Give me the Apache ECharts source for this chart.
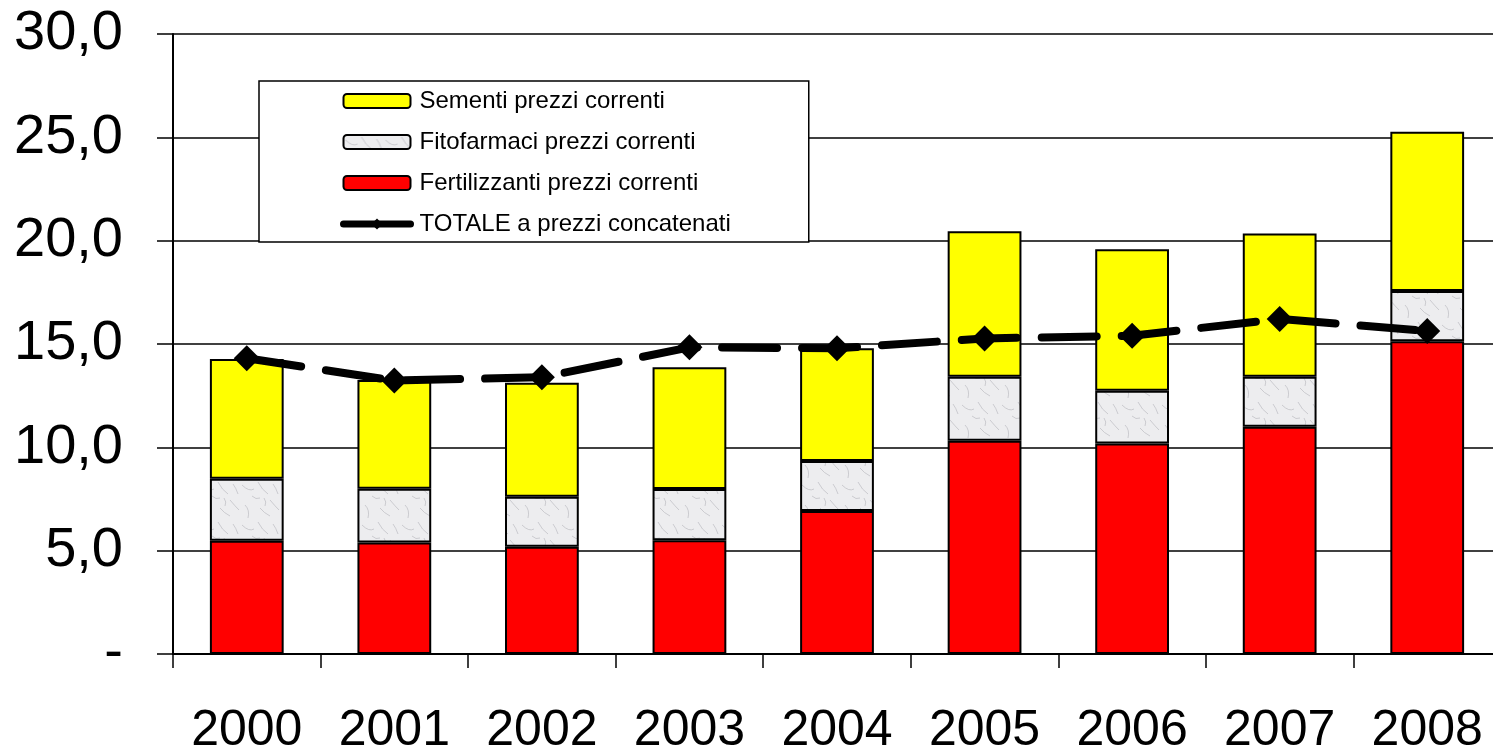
<!DOCTYPE html>
<html>
<head>
<meta charset="utf-8">
<script src="https://cdn.jsdelivr.net/npm/echarts@6/dist/echarts.min.js"></script>
<style>
  html, body { margin: 0; padding: 0; background: #fff; }
  #chart { width: 1493px; height: 749px; }
</style>
</head>
<body>
<div id="chart"></div>
<script>
// anni
var years = ['2000', '2001', '2002', '2003', '2004', '2005', '2006', '2007', '2008'];
// valori delle tre componenti (impilate)
var fertilizzanti = [5.48, 5.39, 5.19, 5.50, 6.92, 10.32, 10.19, 11.00, 15.13];
var fitofarmaci   = [3.00, 2.61, 2.42, 2.48, 2.42, 3.10, 2.55, 2.42, 2.43];
var sementi       = [5.79, 5.26, 5.52, 5.89, 5.45, 7.03, 6.84, 6.93, 7.71];
// totale a prezzi concatenati
var totale        = [14.31, 13.23, 13.39, 14.84, 14.79, 15.27, 15.40, 16.21, 15.63];

var font = 'Liberation Sans, Arial, sans-serif';

// texture "marmo" per i fitofarmaci
function marble() {
  var c = document.createElement('canvas');
  c.width = 40; c.height = 40;
  var g = c.getContext('2d');
  g.fillStyle = '#ededef';
  g.fillRect(0, 0, 40, 40);
  g.strokeStyle = '#bcbcc2';
  g.lineWidth = 0.7;
  var strokes = [[2,5,9,12,14,9],[18,2,22,10,28,14],[30,20,35,26,39,30],[5,25,10,30,8,38],
                 [20,28,24,33,30,36],[12,16,16,20,20,18],[33,4,36,8,38,14],[24,18,27,22,25,26]];
  strokes.forEach(function (s) {
    g.beginPath();
    g.moveTo(s[0], s[1]);
    g.quadraticCurveTo(s[2], s[3], s[4], s[5]);
    g.stroke();
  });
  return c;
}

var chart = echarts.init(document.getElementById('chart'));

var barStyle = function (color) {
  return { color: color, borderColor: '#000', borderWidth: 2 };
};

chart.setOption({
  animation: false,
  textStyle: { fontFamily: font, color: '#000' },
  grid: { left: 173, top: 34, width: 1328, height: 620, containLabel: false, outerBoundsMode: 'none' },
  legend: {
    left: 259,
    top: 81,
    orient: 'vertical',
    backgroundColor: '#fff',
    borderColor: '#000',
    borderWidth: 1.5,
    padding: [7, 78, 5, 81],
    itemWidth: 67,
    itemHeight: 14,
    itemGap: 15,
    textStyle: { fontFamily: font, fontSize: 24, lineHeight: 26, color: '#000', padding: [0, 0, 0, 4] },
    data: ['Sementi prezzi correnti', 'Fitofarmaci prezzi correnti',
           'Fertilizzanti prezzi correnti',
           { name: 'TOTALE a prezzi concatenati', lineStyle: { width: 7, type: 'solid', cap: 'round' } }]
  },
  xAxis: {
    type: 'category',
    data: years,
    boundaryGap: true,
    axisLine: { lineStyle: { color: '#000', width: 2 } },
    axisTick: { show: true, inside: false, length: 14, lineStyle: { color: '#000', width: 1.5 } },
    axisLabel: { fontFamily: font, fontSize: 50, color: '#000', margin: 52 }
  },
  yAxis: {
    type: 'value',
    min: 0,
    max: 30,
    interval: 5,
    axisLine: { show: true, lineStyle: { color: '#000', width: 2 } },
    axisTick: { show: true, inside: false, length: 16, lineStyle: { color: '#000', width: 1.5 } },
    splitLine: { show: true, lineStyle: { color: '#000', width: 1.5 } },
    axisLabel: {
      fontFamily: font,
      fontSize: 56,
      color: '#000',
      margin: 50,
      formatter: function (v) {
        return v === 0 ? '-' : v.toFixed(1).replace('.', ',');
      }
    }
  },
  series: [
    {
      name: 'Fertilizzanti prezzi correnti',
      type: 'bar', stack: 'tot', barWidth: '50%',
      itemStyle: barStyle('#ff0000'),
      data: fertilizzanti
    },
    {
      name: 'Fitofarmaci prezzi correnti',
      type: 'bar', stack: 'tot', barWidth: '50%',
      itemStyle: barStyle({ image: marble(), repeat: 'repeat' }),
      data: fitofarmaci
    },
    {
      name: 'Sementi prezzi correnti',
      type: 'bar', stack: 'tot', barWidth: '50%',
      itemStyle: barStyle('#ffff00'),
      data: sementi
    },
    {
      name: 'TOTALE a prezzi concatenati',
      type: 'line',
      z: 5,
      symbol: 'diamond',
      symbolSize: 26,
      lineStyle: { color: '#000', width: 8, type: [55, 25], cap: 'round' },
      itemStyle: { color: '#000' },
      data: totale
    }
  ]
});
</script>
</body>
</html>
